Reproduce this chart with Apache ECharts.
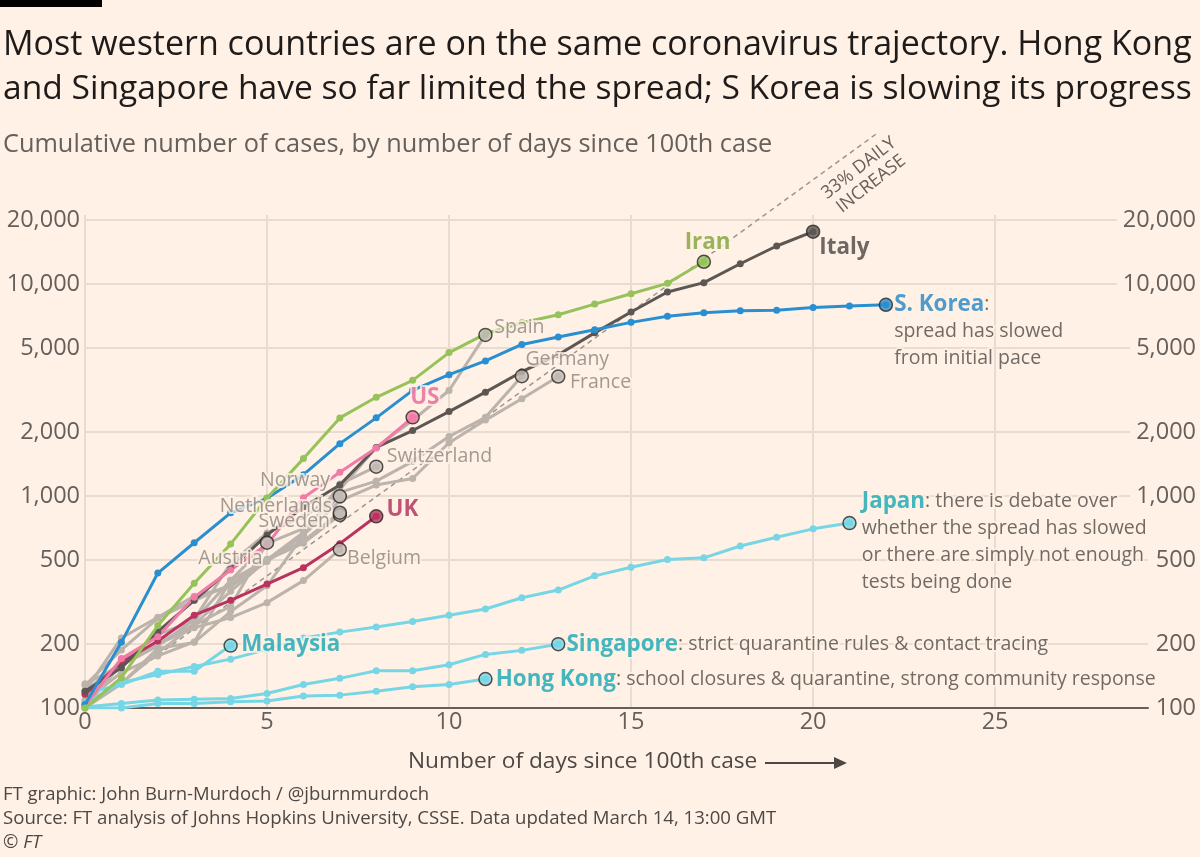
<!DOCTYPE html>
<html>
<head>
<meta charset="utf-8">
<script src="https://cdn.jsdelivr.net/npm/echarts@6/dist/echarts.min.js"></script>
<style>
  html, body { margin: 0; padding: 0; background: #fff1e5; }
  #chart { width: 1200px; height: 857px; }
</style>
</head>
<body>
<div id="chart"></div>
<script>
// ticks
var xTicks = [0, 5, 10, 15, 20, 25];
var yTicks = [100, 200, 500, 1000, 2000, 5000, 10000, 20000];

// cumulative cases, index = days since 100th case
var iran = [100, 139, 245, 388, 593, 978, 1501, 2336, 2922, 3513, 4747, 5823, 6566, 7161, 8042, 9000, 10075, 12729];
var italy = [120, 155, 229, 322, 453, 655, 888, 1128, 1694, 2036, 2502, 3089, 3858, 4636, 5883, 7375, 9172, 10149, 12462, 15113, 17660];
var sKorea = [104, 204, 433, 602, 833, 977, 1261, 1766, 2337, 3150, 3736, 4335, 5186, 5621, 6088, 6593, 7041, 7314, 7478, 7513, 7755, 7869, 7979];
var us = [103, 171, 217, 333, 448, 590, 982, 1294, 1685, 2350];
var uk = [116, 164, 207, 274, 322, 384, 459, 596, 802];
var spain = [120, 165, 222, 259, 400, 500, 673, 1073, 1695, 2277, 3146, 5753];
var germany = [130, 159, 196, 262, 482, 670, 799, 1040, 1176, 1457, 1908, 2350, 3675];
var france = [100, 130, 191, 204, 285, 377, 653, 949, 1126, 1209, 1784, 2281, 2876, 3661];
var switzerland = [120, 214, 268, 337, 374, 491, 652, 1139, 1375];
var norway = [108, 147, 176, 205, 400, 598, 702, 996];
var netherlands = [128, 188, 265, 321, 382, 503, 614, 834];
var sweden = [101, 161, 203, 248, 355, 500, 599, 814];
var austria = [104, 131, 182, 246, 302, 602];
var belgium = [109, 169, 200, 239, 267, 314, 399, 559];
var japan = [105, 132, 144, 157, 170, 189, 214, 228, 241, 256, 274, 293, 331, 360, 420, 461, 502, 511, 581, 639, 700, 745];
var malaysia = [117, 129, 149, 149, 197];
var singapore = [101, 105, 109, 110, 111, 117, 129, 138, 150, 150, 160, 179, 187, 200];
var hongKong = [100, 100, 105, 105, 107, 108, 114, 115, 120, 126, 129, 137];

// 33% daily increase guide: start and end
var guideDays = [0, 21.8];
var guideCases = [100, 52000];

var BG = '#fff1e5';
var FONT = 'Open Sans';
var GRAY = '#bbb3ac', GRAY_TXT = '#8a837d', GRAY_DOT = '#c2bbb5';
var CYAN = '#77d6e5', CYAN_TXT = '#17a6b4';
var NOTE = '#4d4845';

var myChart = echarts.init(document.getElementById('chart'));

function lineSeries(values, color, z) {
    return {
        type: 'line',
        data: values.map(function (v, i) { return [i, v]; }),
        symbol: 'circle',
        symbolSize: 7,
        lineStyle: { color: color, width: 3 },
        itemStyle: { color: color },
        z: z,
        silent: true
    };
}

// label at the last point of a country
function endPoint(values, fill, pos, align, text, nameColor, bold) {
    var st = { fontFamily: FONT, textBorderColor: BG, textBorderWidth: 4, lineHeight: 27 };
    return {
        value: [values.length - 1, values[values.length - 1]],
        itemStyle: { color: fill, borderColor: '#2b2725', borderWidth: 1.5 },
        label: {
            show: true,
            position: pos,
            align: align[0],
            verticalAlign: align[1],
            formatter: text,
            rich: {
                nm: Object.assign({ fontSize: bold ? 22.4 : 19.5, fontWeight: bold ? 'bold' : 'normal', color: nameColor }, st),
                tx: Object.assign({ fontSize: 19.5, color: NOTE }, st)
            }
        }
    };
}

var LM = ['left', 'middle'], RM = ['right', 'middle'], LT = ['left', 'top'], CM = ['center', 'middle'];

var endPoints = [
    endPoint(belgium, GRAY_DOT, [14.5, 16.5], LM, '{nm|Belgium}', GRAY_TXT, false),
    endPoint(austria, GRAY_DOT, [2.8, 23], RM, '{nm|Austria}', GRAY_TXT, false),
    endPoint(sweden, GRAY_DOT, [-2.5, 14], RM, '{nm|Sweden}', GRAY_TXT, false),
    endPoint(netherlands, GRAY_DOT, [-0.5, 0.5], RM, '{nm|Netherlands}', GRAY_TXT, false),
    endPoint(norway, GRAY_DOT, [-2.5, -8.5], RM, '{nm|Norway}', GRAY_TXT, false),
    endPoint(switzerland, GRAY_DOT, [17.8, -2.5], LM, '{nm|Switzerland}', GRAY_TXT, false),
    endPoint(france, GRAY_DOT, [19, 13], LM, '{nm|France}', GRAY_TXT, false),
    endPoint(germany, GRAY_DOT, [10.8, -9.8], LM, '{nm|Germany}', GRAY_TXT, false),
    endPoint(spain, GRAY_DOT, [16, 0], LM, '{nm|Spain}', GRAY_TXT, false),
    endPoint(hongKong, CYAN, [17.5, 7.5], LM, '{nm|Hong Kong}{tx|: school closures & quarantine, strong community response}', CYAN_TXT, true),
    endPoint(singapore, CYAN, [15.5, 7.5], LM, '{nm|Singapore}{tx|: strict quarantine rules & contact tracing}', CYAN_TXT, true),
    endPoint(malaysia, CYAN, [17.8, 6.5], LM, '{nm|Malaysia}', CYAN_TXT, true),
    endPoint(japan, CYAN, [19.5, -28], LT, '{nm|Japan}{tx|: there is debate over}\n{tx|whether the spread has slowed}\n{tx|or there are simply not enough}\n{tx|tests being done}', CYAN_TXT, true),
    endPoint(uk, '#b8335f', [17.5, 0.5], LM, '{nm|UK}', '#b02c58', true),
    endPoint(us, '#f27aa6', [4.8, -12.8], LM, '{nm|US}', '#e8669a', true),
    endPoint(italy, '#5d5754', [13.5, 23.5], LM, '{nm|Italy}', '#4a4542', true),
    endPoint(sKorea, '#2a8fd0', [15.5, -6.5], LT, '{nm|S. Korea}{tx|:}\n{tx|spread has slowed}\n{tx|from initial pace}', '#2386c6', true),
    endPoint(iran, '#96c25a', [11, -12], CM, '{nm|Iran}', '#7fa23a', true)
];

function fmtNum(v) {
    return Math.round(v).toLocaleString('en-US');
}

var axisText = { color: '#66605c', fontSize: 23.5, fontFamily: FONT };

var option = {
    backgroundColor: BG,
    animation: false,
    textStyle: { fontFamily: FONT },
    grid: { left: 85, right: 52, top: 215, bottom: 149, containLabel: false, outerBoundsMode: 'none' },
    xAxis: {
        type: 'value',
        min: 0,
        max: 29.2,
        axisLine: { show: true, onZero: false, lineStyle: { color: '#66605c', width: 2 } },
        axisTick: { show: false, customValues: xTicks },
        axisLabel: Object.assign({ customValues: xTicks, margin: 2 }, axisText),
        splitLine: { show: true, lineStyle: { color: '#e8dbd0', width: 2 } }
    },
    yAxis: [{
        type: 'log',
        logBase: 10,
        min: 100,
        max: 21160,
        axisLine: { show: false },
        axisTick: { show: false, customValues: yTicks },
        axisLabel: Object.assign({ customValues: yTicks, margin: 5, formatter: fmtNum }, axisText),
        splitLine: { show: true, lineStyle: { color: '#e8dbd0', width: 2 } }
    }, {
        type: 'log',
        logBase: 10,
        min: 100,
        max: 21160,
        position: 'right',
        axisLine: { show: false },
        axisTick: { show: false, customValues: yTicks },
        axisLabel: Object.assign({
            customValues: yTicks, margin: 54, align: 'right', formatter: fmtNum,
            backgroundColor: BG, padding: [0, 6]
        }, axisText),
        splitLine: { show: false }
    }],
    series: [
        {
            type: 'line',
            data: guideDays.map(function (d, i) { return [d, guideCases[i]]; }),
            symbol: 'none',
            clip: false,
            lineStyle: { color: '#9c958f', width: 1.5, type: [5, 4] },
            z: 1,
            silent: true
        },
        lineSeries(belgium, GRAY, 2),
        lineSeries(austria, GRAY, 2),
        lineSeries(sweden, GRAY, 2),
        lineSeries(netherlands, GRAY, 2),
        lineSeries(norway, GRAY, 2),
        lineSeries(switzerland, GRAY, 2),
        lineSeries(france, GRAY, 2),
        lineSeries(germany, GRAY, 2),
        lineSeries(spain, GRAY, 2),
        lineSeries(hongKong, CYAN, 3),
        lineSeries(singapore, CYAN, 3),
        lineSeries(malaysia, CYAN, 3),
        lineSeries(japan, CYAN, 3),
        lineSeries(uk, '#b8335f', 4),
        lineSeries(italy, '#5d5754', 5),
        lineSeries(us, '#f27aa6', 5),
        lineSeries(sKorea, '#2a8fd0', 6),
        lineSeries(iran, '#96c25a', 7),
        {
            type: 'scatter',
            data: endPoints,
            symbol: 'circle',
            symbolSize: 13,
            z: 10,
            silent: true
        }
    ],
    graphic: [
        { type: 'rect', left: 0, top: 0, shape: { width: 102, height: 7 }, style: { fill: '#000' } },
        { type: 'text', x: 3, y: 45, style: { text: 'Most western countries are on the same coronavirus trajectory. Hong Kong', fontFamily: FONT, fontSize: 34, fill: '#1e1b1a', verticalAlign: 'middle' } },
        { type: 'text', x: 3, y: 89, style: { text: 'and Singapore have so far limited the spread; S Korea is slowing its progress', fontFamily: FONT, fontSize: 33.6, fill: '#1e1b1a', verticalAlign: 'middle' } },
        { type: 'text', x: 3, y: 145, style: { text: 'Cumulative number of cases, by number of days since 100th case', fontFamily: FONT, fontSize: 25.3, fill: '#66605c', verticalAlign: 'middle' } },
        { type: 'text', x: 865, y: 176, rotation: 38 * Math.PI / 180, style: { text: '33% DAILY\nINCREASE', fontFamily: FONT, fontSize: 18, lineHeight: 20, fill: '#66605c', align: 'center', verticalAlign: 'middle' } },
        { type: 'text', x: 408, y: 762, style: { text: 'Number of days since 100th case', fontFamily: FONT, fontSize: 22.7, fill: '#4d4845', verticalAlign: 'middle' } },
        { type: 'line', shape: { x1: 765, y1: 763, x2: 836, y2: 763 }, style: { stroke: '#4d4845', lineWidth: 2 } },
        { type: 'polygon', shape: { points: [[834, 757], [847, 763], [834, 769]] }, style: { fill: '#4d4845' } },
        { type: 'text', x: 3, y: 795, style: { text: 'FT graphic: John Burn-Murdoch / @jburnmurdoch', fontFamily: FONT, fontSize: 18.5, fill: NOTE, verticalAlign: 'middle' } },
        { type: 'text', x: 3, y: 819, style: { text: 'Source: FT analysis of Johns Hopkins University, CSSE. Data updated March 14, 13:00 GMT', fontFamily: FONT, fontSize: 18.6, fill: NOTE, verticalAlign: 'middle' } },
        { type: 'text', x: 3, y: 843, style: { text: '\u00a9 FT', fontFamily: FONT, fontSize: 18.5, fontStyle: 'italic', fill: NOTE, verticalAlign: 'middle' } }
    ]
};

myChart.setOption(option);
</script>
</body>
</html>
